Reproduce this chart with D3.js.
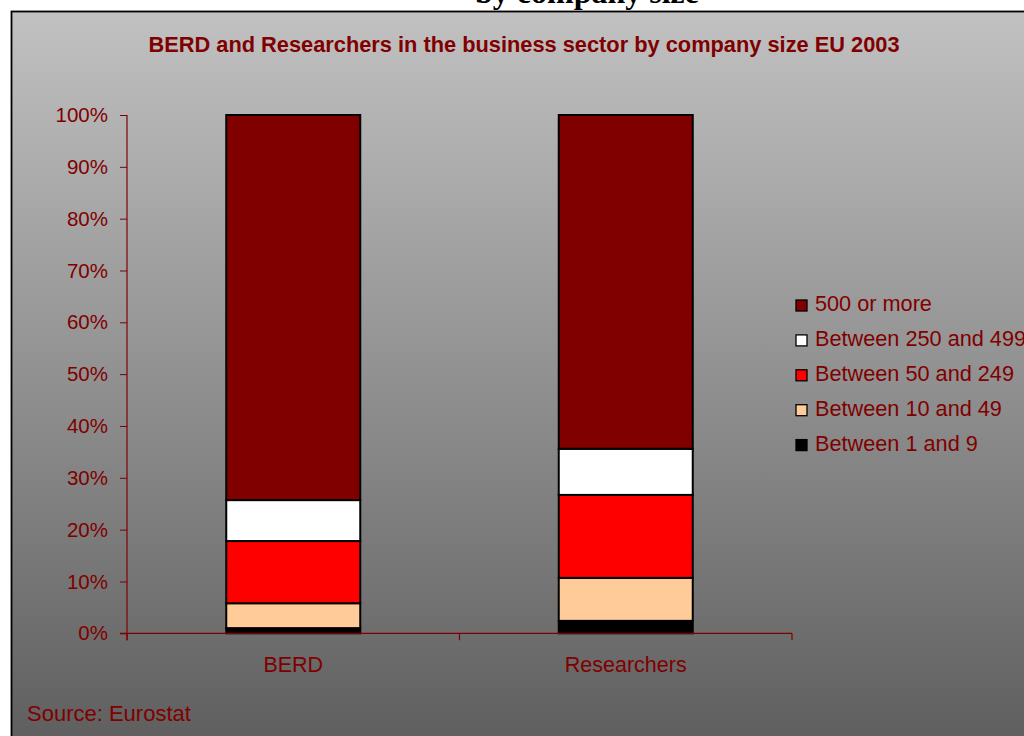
<!DOCTYPE html>
<html><head><meta charset="utf-8">
<script src="https://cdn.jsdelivr.net/npm/d3@7/dist/d3.min.js"></script>
<style>html,body{margin:0;padding:0;background:#fff;overflow:hidden}</style>
</head><body>
<script>
const categories = ["BERD", "Researchers"];
const seriesNames = ["Between 1 and 9", "Between 10 and 49", "Between 50 and 249", "Between 250 and 499", "500 or more"];
const between1and9 = [1.0, 2.4];
const between10and49 = [4.8, 8.3];
const between50and249 = [12.0, 16.0];
const between250and499 = [7.9, 8.9];
const over500 = [74.3, 64.4];
const seriesColors = ["#000000", "#ffcc99", "#ff0000", "#ffffff", "#800000"];
const yTicks = [0, 10, 20, 30, 40, 50, 60, 70, 80, 90, 100];
const legendOrder = ["500 or more", "Between 250 and 499", "Between 50 and 249", "Between 10 and 49", "Between 1 and 9"];
const chartTitle = "BERD and Researchers in the business sector by company size EU 2003";
const sourceText = "Source: Eurostat";
const cutTitle = "by company size";

const seriesValues = [between1and9, between10and49, between50and249, between250and499, over500];
const rows = categories.map((c, i) => {
  const r = {category: c};
  seriesNames.forEach((s, j) => r[s] = seriesValues[j][i]);
  return r;
});

const W = 1024, H = 736;
const svg = d3.select("body").append("svg").attr("width", W).attr("height", H);
const defs = svg.append("defs");
const grad = defs.append("linearGradient").attr("id", "bg").attr("x1", 0).attr("y1", 0).attr("x2", 0).attr("y2", 1);
grad.append("stop").attr("offset", "0%").attr("stop-color", "#c1c1c1");
grad.append("stop").attr("offset", "60%").attr("stop-color", "#858585");
grad.append("stop").attr("offset", "100%").attr("stop-color", "#5b5b5b");

svg.append("rect").attr("width", W).attr("height", H).attr("fill", "#fff");
// partially hidden page heading above the chart frame
svg.append("text").attr("x", 475).attr("y", 3)
  .attr("font-family", "Liberation Serif, Times New Roman, serif").attr("font-weight", "bold")
  .attr("font-size", 32).attr("fill", "#000").text(cutTitle);

svg.append("rect").attr("x", 11.5).attr("y", 11.5).attr("width", W + 20).attr("height", H + 20)
  .attr("fill", "url(#bg)").attr("stroke", "#000").attr("stroke-width", 1.8);

const red = "#800000";
const font = "Liberation Sans, Arial, sans-serif";

svg.append("text").attr("x", 524).attr("y", 52).attr("text-anchor", "middle")
  .attr("font-family", font).attr("font-weight", "bold").attr("font-size", 21.8)
  .attr("fill", red).text(chartTitle);

const plotLeft = 127, plotRight = 792, plotTop = 115, plotBottom = 633.3;
const x = d3.scaleBand().domain(categories).range([plotLeft, plotRight]).paddingInner(0.597).paddingOuter(0.2985);
const y = d3.scaleLinear().domain([0, 100]).range([plotBottom, plotTop]);

const stacked = d3.stack().keys(seriesNames)(rows);

const g = svg.append("g");
g.selectAll("g.series").data(stacked).join("g").attr("class", "series")
  .attr("fill", (d, i) => seriesColors[i])
  .selectAll("rect").data(d => d).join("rect")
  .attr("x", d => x(d.data.category))
  .attr("width", x.bandwidth())
  .attr("y", d => y(d[1]))
  .attr("height", d => y(d[0]) - y(d[1]))
  .attr("stroke", "#000").attr("stroke-width", 2);

// Y axis
const yAxis = d3.axisLeft(y).tickValues(yTicks).tickSize(7).tickPadding(12).tickFormat(d => d + "%");
const ya = svg.append("g").attr("transform", `translate(${plotLeft},0)`).call(yAxis);
ya.select(".domain").remove();
ya.selectAll(".tick line").attr("stroke", red);
ya.selectAll(".tick text").attr("fill", red).attr("font-family", font).attr("font-size", 20.5);
svg.append("line").attr("x1", plotLeft).attr("x2", plotLeft).attr("y1", plotTop).attr("y2", plotBottom + 7)
  .attr("stroke", red).attr("stroke-width", 1.2);

// X axis
svg.append("line").attr("x1", plotLeft - 7).attr("x2", plotRight).attr("y1", plotBottom).attr("y2", plotBottom)
  .attr("stroke", red).attr("stroke-width", 1.2);
const step = x.step();
const bounds = d3.range(categories.length + 1).map(i => plotLeft + i * step);
svg.selectAll("line.xt").data(bounds).join("line").attr("class", "xt")
  .attr("x1", d => d).attr("x2", d => d).attr("y1", plotBottom).attr("y2", plotBottom + 7)
  .attr("stroke", red).attr("stroke-width", 1.2);
svg.selectAll("text.xl").data(categories).join("text").attr("class", "xl")
  .attr("x", d => x(d) + x.bandwidth() / 2).attr("y", 671.5).attr("text-anchor", "middle")
  .attr("font-family", font).attr("font-size", 21.5).attr("fill", red).text(d => d);

// Legend
const lg = svg.append("g");
legendOrder.forEach((name, i) => {
  const yy = 311 + i * 34.9;
  const ci = seriesNames.indexOf(name);
  lg.append("rect").attr("x", 796).attr("y", yy - 11).attr("width", 11).attr("height", 11)
    .attr("fill", seriesColors[ci]).attr("stroke", "#000").attr("stroke-width", 1.3);
  lg.append("text").attr("x", 815).attr("y", yy).attr("font-family", font).attr("font-size", 21.7)
    .attr("fill", red).text(name);
});

svg.append("text").attr("x", 27).attr("y", 721).attr("font-family", font).attr("font-size", 22)
  .attr("fill", red).text(sourceText);
</script>
</body></html>
